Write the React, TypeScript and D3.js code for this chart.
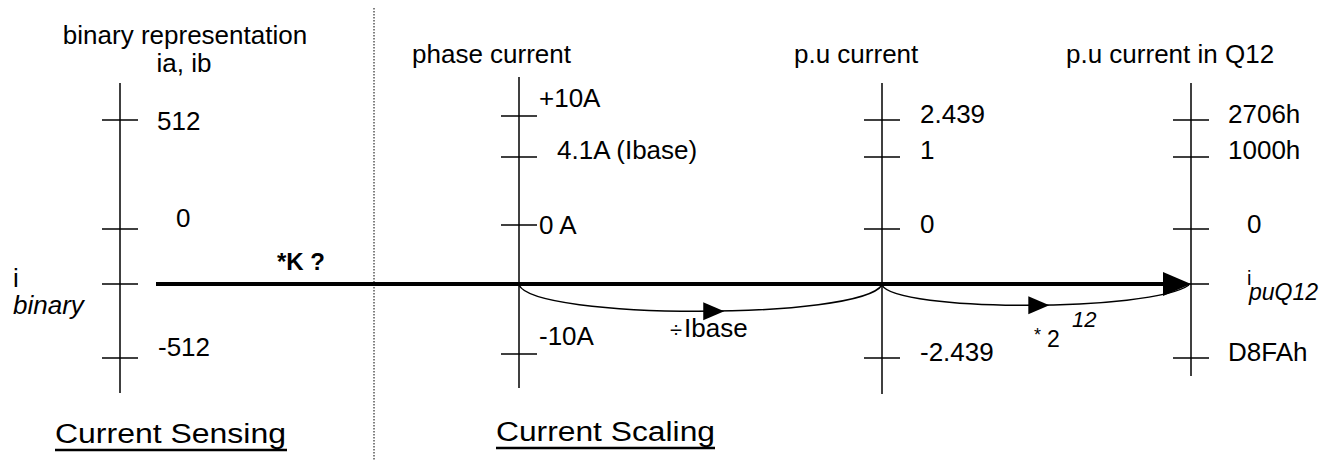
import React from "react";
import * as d3 from "d3";

// axes of the scaling diagram, left to right
const axisKeys = ["binary", "phase", "pu", "q12"];
const axisTitles = [["binary representation", "ia, ib"], ["phase current"], ["p.u current"], ["p.u current in Q12"]];

// tick levels shared by every axis
const levels = ["max", "base", "zero", "signal", "min"];

// tick labels, one list per axis (level -> label)
const binaryLevels = ["max", "zero", "signal", "min"];
const binaryLabels = ["512", "0", "", "-512"];
const phaseLevels = ["max", "base", "zero", "min"];
const phaseLabels = ["+10A", "4.1A (Ibase)", "0 A", "-10A"];
const puLevels = ["max", "base", "zero", "min"];
const puLabels = ["2.439", "1", "0", "-2.439"];
const q12Levels = ["max", "base", "zero", "signal", "min"];
const q12Labels = ["2706h", "1000h", "0", "", "D8FAh"];

const operations = ["÷Ibase", "* 2"];
const sectionTitles = ["Current Sensing", "Current Scaling"];

const FONT = "'Liberation Sans', Arial, Helvetica, sans-serif";

const bez = (p0: number[], p1: number[], p2: number[], p3: number[], t: number) => {
  const u = 1 - t;
  return [0, 1].map(i => u * u * u * p0[i] + 3 * u * u * t * p1[i] + 3 * u * t * t * p2[i] + t * t * t * p3[i]);
};

const App = () => {
  const width = 1339;
  const height = 460;

  const x = d3.scaleOrdinal<string, number>().domain(axisKeys).range([120, 519, 882, 1191]);
  const y = d3.scaleOrdinal<string, number>().domain(levels).range([120, 157, 229, 284, 358]);

  // hand-drawn quirks of the original: phase axis sits a little higher
  const shift: Record<string, number> = { binary: 0, phase: -4, pu: 0, q12: 0 };
  const span: Record<string, number[]> = { binary: [83, 393], phase: [77, 388], pu: [83, 394], q12: [83, 376] };

  const axes = [
    { key: "binary", lv: binaryLevels, labels: binaryLabels, dx: [37, 56, 0, 38], dy: [10, -2, 0, -2] },
    { key: "phase", lv: phaseLevels, labels: phaseLabels, dx: [20, 38, 20, 20], dy: [-9, 2, 9, -9] },
    { key: "pu", lv: puLevels, labels: puLabels, dx: [38, 38, 38, 38], dy: [3, 2, 4, 3] },
    { key: "q12", lv: q12Levels, labels: q12Labels, dx: [37, 37, 56, 0, 37], dy: [3, 2, 4, 0, 3] },
  ];

  const ySig = y("signal");
  const lineStart = 156;
  const tipX = x("q12");

  // the two sagging arrows beneath the signal line
  const curves = [
    { p0: [x("phase"), ySig + 1], p1: [x("phase") + 16, ySig + 36], p2: [x("pu") - 22, ySig + 36], p3: [x("pu"), ySig + 1], t: 0.53 },
    { p0: [x("pu"), ySig + 1], p1: [x("pu") + 13, ySig + 28], p2: [x("q12") - 40, ySig + 28], p3: [x("q12") - 2, ySig + 1], t: 0.53 },
  ];

  const curvePath = c => {
    const p = d3.path();
    p.moveTo(c.p0[0], c.p0[1]);
    p.bezierCurveTo(c.p1[0], c.p1[1], c.p2[0], c.p2[1], c.p3[0], c.p3[1]);
    return p.toString();
  };

  const tri = (cx: number, cy: number, len: number, half: number) =>
    `M${cx - len / 2},${cy - half}L${cx + len / 2},${cy}L${cx - len / 2},${cy + half}Z`;

  return (
    <svg width={width} height={height} style={{ position: "absolute", left: 0, top: 0, display: "block", background: "#fff" }}
      fontFamily={FONT} fontSize={26}>
      <rect width={width} height={height} fill="#fff" />

      {/* dotted separator */}
      <line x1={374} x2={374} y1={8} y2={height} stroke="#000" strokeWidth={1} strokeDasharray="1.5,1.5" />

      {/* axis titles */}
      <text x={185} y={44} textAnchor="middle">{axisTitles[0][0]}</text>
      <text x={184} y={72} textAnchor="middle">{axisTitles[0][1]}</text>
      <text x={412} y={63}>{axisTitles[1][0]}</text>
      <text x={794} y={63}>{axisTitles[2][0]}</text>
      <text x={1066} y={63}>{axisTitles[3][0]}</text>

      {/* vertical axes with ticks and labels */}
      {axes.map(a => (
        <g key={a.key}>
          <line x1={x(a.key)} x2={x(a.key)} y1={span[a.key][0]} y2={span[a.key][1]} stroke="#000" strokeWidth={1.5} />
          {a.lv.map((l, i) => {
            const ty = y(l) + (l === "base" || l === "signal" ? 0 : shift[a.key]);
            return (
              <g key={l}>
                <line x1={x(a.key) - 18} x2={x(a.key) + 18} y1={ty} y2={ty} stroke="#000" strokeWidth={1.5} />
                {a.labels[i] && (
                  <text x={x(a.key) + a.dx[i]} y={ty + a.dy[i]}>{a.labels[i]}</text>
                )}
              </g>
            );
          })}
        </g>
      ))}

      {/* main signal line */}
      <line x1={lineStart} x2={tipX - 26} y1={ySig} y2={ySig} stroke="#000" strokeWidth={4} />
      <path d={`M${tipX - 28},${ySig - 12}L${tipX},${ySig}L${tipX - 28},${ySig + 12}Z`} fill="#000" />
      <text x={277} y={270} fontWeight="bold" fontSize={24}>*K ?</text>

      {/* scaling curves */}
      {curves.map((c, i) => {
        const m = bez(c.p0, c.p1, c.p2, c.p3, c.t);
        return (
          <g key={i}>
            <path d={curvePath(c)} fill="none" stroke="#000" strokeWidth={1.5} />
            <path d={tri(m[0], m[1], 21, 9)} fill="#000" />
          </g>
        );
      })}
      <text x={670} y={337}>
        <tspan fontSize={22}>÷</tspan>
        <tspan dx={2}>{operations[0].slice(1)}</tspan>
      </text>
      <text x={1034} y={347}>
        <tspan fontSize={18} dy={-6}>*</tspan>
        <tspan fontSize={23} dx={6} dy={6}>{operations[1].slice(2)}</tspan>
      </text>
      <text x={1072} y={327} fontSize={22} fontStyle="italic">12</text>

      {/* signal names */}
      <text x={13} y={287}>i</text>
      <text x={13} y={314} fontStyle="italic">binary</text>
      <text x={1247} y={285} fontSize={20}>i</text>
      <text x={1249} y={300} fontSize={23} fontStyle="italic">puQ12</text>

      {/* section captions */}
      <text x={55} y={443} fontSize={27} textLength={231} lengthAdjust="spacingAndGlyphs">{sectionTitles[0]}</text>
      <line x1={55} x2={287} y1={450} y2={450} stroke="#000" strokeWidth={2.5} />
      <text x={496} y={441} fontSize={27} textLength={219} lengthAdjust="spacingAndGlyphs">{sectionTitles[1]}</text>
      <line x1={496} x2={715} y1={448} y2={448} stroke="#000" strokeWidth={2.5} />
    </svg>
  );
};

export default App;
